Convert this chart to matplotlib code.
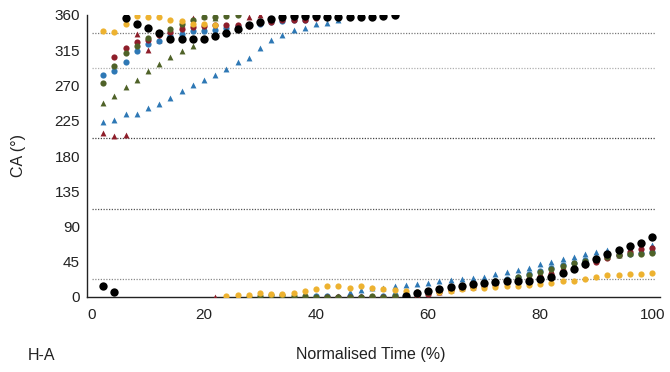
import numpy as np
import matplotlib
matplotlib.use("Agg")
import matplotlib.pyplot as plt

plt.rcParams['font.family'] = ['Liberation Sans', 'DejaVu Sans']

# normalised time (%), one sample every 2 %
time_pct = list(range(2, 101, 2))

# contact angle (deg) per run, wraps 360 -> 0
yellow_c = [339, 338, 349, 359, 358, 358, 354, 352, 348, 348,
            347, 1, 2, 2.5, 4.5, 4, 4, 5.5, 8, 10,
            14, 13.5, 12, 14, 12, 10, 9, 8, 7, 6.5,
            7, 8, 10, 11, 12, 13, 14, 14.5, 15, 16,
            17.5, 20, 21, 23, 26, 27.5, 28, 29.5, 30, 31]
black_c = [14, 6, 356, 349, 343, 337, 330, 330, 330, 330,
           333, 336.5, 341.5, 347, 351.5, 355.5, 358, 359, 359, 359,
           358, 358, 358, 358, 358, 358.5, 359.5, 1.7, 4.6, 7.6,
           10, 12.8, 14.5, 16, 17.4, 19.6, 20.8, 20.5, 21, 23,
           26, 30.5, 35.5, 42, 48.5, 55, 60, 65.5, 69.5, 77]
blue_c = [283.5, 288.7, 300, 314, 322.6, 327, 333, 336, 339, 339.5,
          341, 344, 346, 347, 348, 351, 352, 353.6, 354, 1.3,
          1.7, 0.5, 1, 0.5, 0.5, 1, 2, 4, 6, 8,
          10, 12, 14, 16, 18.5, 20.5, 23, 26, 29, 33,
          37, 41, 44, 47, 50, 52, 54, 55.5, 56.5, 57.5]
red_c = [None, 306, 317.6, 325, 328, 334, 338, 342, 345, 346,
         347, 347.5, 347, 346, 349.5, 351, 353, 353, 354, 356,
         0.5, 0.3, 0.3, 0.3, 0.3, 0.3, 0.5, 1, 2, 4,
         6, 8.5, 11, 13, 15, 17, 19, 21, 23, 26,
         29, 33, 37, 41, 45, 50, 54, 58, 61, 63]
olive_c = [273.5, 295, 311, 321, 331, 337, 342, 348, 353, 357,
           358, 359, 359.8, 0.3, 1.5, 2, 2, 1.5, 1, 0.5,
           0.5, 0.5, 0.5, 0.5, 1, 0.5, 1, 2, 4, 6,
           9, 11, 13, 16, 18, 20, 22, 25, 28, 32,
           36, 39, 43, 46, 49, 51, 53, 54.5, 55.5, 56.5]
red_t = [210, 205, 207, 336, 315, 328, 340, 348, 356, 359,
         0.5, None, None, 358, 359.5, 0.5, 0.5, 1, 1, 0.5,
         0.5, 0.5, 0.5, 0.5, 0.5, 0.5, 1, 1.5, 3, 5,
         7, 9, 11, 13, 16, 18, 20, 22, 25, 28,
         32, 36, 40, 44, 48, 52, 55, 58, 60, 62]
olive_t = [248, 257, 267.5, 277, 288, 297.6, 306, 314, 320, 345,
           356, 0.5, 1, 1.5, 2, 2.5, 2.5, 2, 1.5, 1,
           1, 1, 1, 1, 1, 1, 1.5, 3, 5, 7,
           9, 11, 13, 15, 17, 19, 21, 24, 27, 31,
           35, 39, 42, 46, 49, 52, 54, 56, 58, 60]
blue_t = [223.5, 226, 233, 233, 241, 247, 254.5, 263, 271, 276.5,
          283.5, 291, 300, 305.5, 318.5, 327.5, 334, 340.5, 343.5, 348.5,
          350, 353, 7, 9, 11, 12, 14, 15, 17, 18,
          20.4, 21.3, 22.5, 24.7, 26, 29, 31.5, 34, 37, 41.6,
          44.6, 48.8, 51, 55, 57.5, 59.5, 61.5, 63, 65, 66]

ref_lines = [22.5, 112.5, 202.5, 292.5, 337.5]
ref_colours = ['#8a8a8a', '#555555', '#444444', '#b0b0b0', '#7a7a7a']

YEL = '#EDB230'
RED = '#8E1E2A'
OLV = '#4F6228'
BLU = '#2E78B5'
TXT = '#222222'


def arr(v):
    return np.array([np.nan if a is None else a for a in v], dtype=float)


fig = plt.figure(figsize=(6.7, 3.72), dpi=100)
ax = fig.add_axes([87 / 670, 1 - 297 / 372, (660 - 87) / 670, (297 - 15) / 372])

for yv, col in zip(ref_lines, ref_colours):
    ax.plot([0, 100.5], [yv, yv], ls=(0, (1, 1.2)), lw=0.9, color=col, zorder=1)

t = np.array(time_pct)
ax.scatter(t, arr(blue_t), marker='^', s=18, color=BLU, lw=0, zorder=3)
ax.scatter(t, arr(olive_t), marker='^', s=18, color=OLV, lw=0, zorder=3)
ax.scatter(t, arr(red_t), marker='^', s=18, color=RED, lw=0, zorder=3)
ax.scatter(t, arr(blue_c), marker='o', s=20, color=BLU, lw=0, zorder=4)
ax.scatter(t, arr(red_c), marker='o', s=20, color=RED, lw=0, zorder=4)
ax.scatter(t, arr(olive_c), marker='o', s=20, color=OLV, lw=0, zorder=4)
ax.scatter(t, arr(yellow_c), marker='o', s=20, color=YEL, lw=0, zorder=4)
ax.scatter(t, arr(black_c), marker='o', s=36, color='black', lw=0, zorder=5)

ax.set_xlim(-0.9, 101.4)
ax.set_ylim(0, 360)
ax.set_yticks(np.arange(0, 361, 45))
ax.set_xticks(np.arange(0, 101, 20))
ax.tick_params(length=0, labelsize=11, colors=TXT)
ax.tick_params(axis='y', pad=5)
ax.tick_params(axis='x', pad=8)
for s in ['top', 'right']:
    ax.spines[s].set_visible(False)
for s in ['left', 'bottom']:
    ax.spines[s].set_color(TXT)
    ax.spines[s].set_linewidth(1.0)

fig.text(18 / 670, 1 - 155 / 372, 'CA (°)', rotation=90, ha='center', va='center',
         fontsize=11.5, color=TXT)
fig.text(371 / 670, 1 - 355 / 372, 'Normalised Time (%)', ha='center', va='center',
         fontsize=11.5, color=TXT)
fig.text(28 / 670, 1 - 355 / 372, 'H-A', ha='left', va='center', fontsize=11.5, color=TXT)

fig.savefig('out.png', dpi=100)
